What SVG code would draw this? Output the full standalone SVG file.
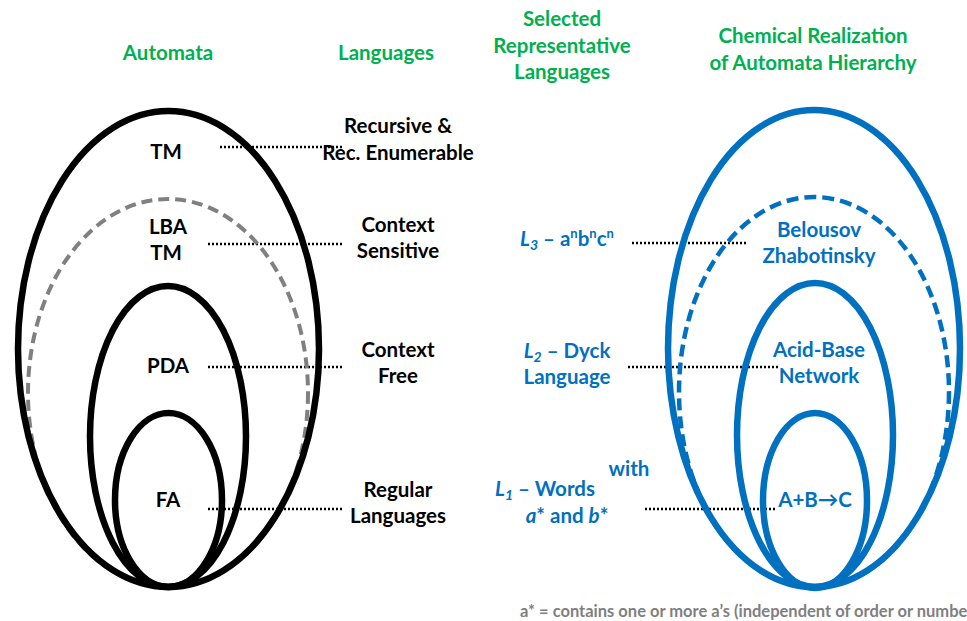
<svg xmlns="http://www.w3.org/2000/svg" width="967" height="621" viewBox="0 0 967 621">
<style>
text{font-family:Lato,"Open Sans","Liberation Sans",sans-serif;font-weight:bold;font-size:20.5px;text-anchor:middle}
.g{fill:#00B050}
.k{fill:#000}
.b{fill:#0070C0}
.ft{fill:#7F7F7F;font-size:16.5px;text-anchor:start}
.blk{fill:none;stroke:#000;stroke-width:6.5}
.gd{fill:none;stroke:#808080;stroke-width:4;stroke-dasharray:11 6}
.bl{fill:none;stroke:#0070C0;stroke-width:6.5}
.bd{fill:none;stroke:#0070C0;stroke-width:4.5;stroke-dasharray:12 6}
.dot{stroke:#000;stroke-width:2.5;stroke-dasharray:2 2;fill:none}
.it{font-style:italic}
.sub{font-size:14px;font-style:italic}
.sup{font-size:13px}
</style>
<rect width="967" height="621" fill="#fff"/>
<g id="headings">
<text class="g" x="168" y="60">Automata</text>
<text class="g" x="386" y="60">Languages</text>
<text class="g" x="562" y="26">Selected</text>
<text class="g" x="562" y="53">Representative</text>
<text class="g" x="562" y="79">Languages</text>
<text class="g" x="813" y="43">Chemical Realization</text>
<text class="g" x="813" y="70">of Automata Hierarchy</text>
</g>
<g id="connectors">
<line class="dot" x1="220" y1="147" x2="343" y2="147"/>
<line class="dot" x1="208" y1="244" x2="342" y2="244"/>
<line class="dot" x1="208" y1="367" x2="342" y2="367"/>
<line class="dot" x1="208" y1="509" x2="342" y2="509"/>
<line class="dot" x1="632" y1="243" x2="748" y2="243"/>
<line class="dot" x1="628" y1="367" x2="778" y2="367"/>
<line class="dot" x1="645" y1="509" x2="777" y2="509"/>
</g>
<g id="tm">
<ellipse class="gd" cx="168" cy="393" rx="140" ry="194"/>
<ellipse class="blk" cx="168.5" cy="349" rx="150.5" ry="238"/>
<text class="k" x="166" y="159">TM</text>
</g>
<g id="lba">
<text class="k" x="168" y="234">LBA</text>
<text class="k" x="166" y="260">TM</text>
</g>
<g id="pda">
<ellipse class="blk" cx="168" cy="436.5" rx="78" ry="150.5"/>
<text class="k" x="168" y="373">PDA</text>
</g>
<g id="fa">
<ellipse class="blk" cx="168.5" cy="500" rx="53.5" ry="87"/>
<text class="k" x="168" y="507">FA</text>
</g>
<g id="lang-re">
<text class="k" x="398" y="133">Recursive &amp;</text>
<text class="k" x="398" y="160">Rec. Enumerable</text>
</g>
<g id="lang-cs">
<text class="k" x="398" y="232">Context</text>
<text class="k" x="398" y="258">Sensitive</text>
</g>
<g id="lang-cf">
<text class="k" x="398" y="357">Context</text>
<text class="k" x="398" y="383">Free</text>
</g>
<g id="lang-reg">
<text class="k" x="398" y="497">Regular</text>
<text class="k" x="398" y="523">Languages</text>
</g>
<g id="l3">
<text class="b" x="520" y="246" style="text-anchor:start"><tspan class="it">L</tspan><tspan class="sub" dy="4">3</tspan><tspan dy="-4"> – a</tspan><tspan class="sup" dy="-8">n</tspan><tspan dy="8">b</tspan><tspan class="sup" dy="-8">n</tspan><tspan dy="8">c</tspan><tspan class="sup" dy="-8">n</tspan></text>
</g>
<g id="l2">
<text class="b" x="567" y="358"><tspan class="it">L</tspan><tspan class="sub" dy="4">2</tspan><tspan dy="-4"> – Dyck</tspan></text>
<text class="b" x="567" y="384">Language</text>
</g>
<g id="l1">
<text class="b" x="629" y="476">with</text>
<text class="b" x="545" y="496"><tspan class="it">L</tspan><tspan class="sub" dy="4">1</tspan><tspan dy="-4"> – Words</tspan></text>
<text class="b" x="567" y="523"><tspan class="it">a</tspan>* and <tspan class="it">b</tspan>*</text>
</g>
<g id="bz">
<ellipse class="bd" cx="814" cy="392" rx="135" ry="195"/>
<ellipse class="bl" cx="814" cy="348.5" rx="146" ry="238.5"/>
<text class="b" x="819" y="237">Belousov</text>
<text class="b" x="819" y="263">Zhabotinsky</text>
</g>
<g id="acidbase">
<ellipse class="bl" cx="815" cy="435" rx="78" ry="152"/>
<text class="b" x="819" y="357">Acid-Base</text>
<text class="b" x="819" y="383">Network</text>
</g>
<g id="abc">
<ellipse class="bl" cx="815" cy="500.5" rx="52" ry="87.5"/>
<text class="b" x="815" y="507">A+B→C</text>
</g>
<g id="footnote">
<text class="ft" x="520" y="617">a* = contains one or more a’s (independent of order or number)</text>
</g>
</svg>
